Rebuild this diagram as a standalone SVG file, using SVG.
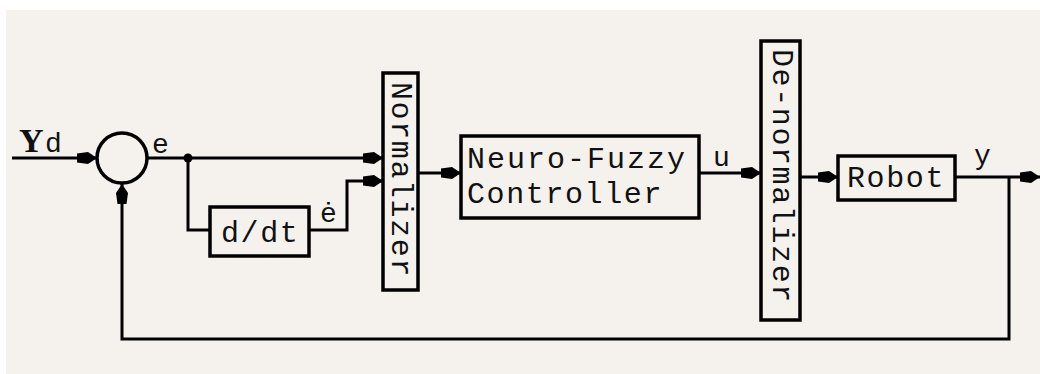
<svg xmlns="http://www.w3.org/2000/svg" width="1040" height="374" viewBox="0 0 1040 374">
<style>
.box{fill:#f5f2ee;stroke:#000;stroke-width:3.5}
.ln{fill:none;stroke:#000;stroke-width:3}
.t{font-family:"Liberation Mono","Courier New",monospace;font-size:30px;fill:#111;letter-spacing:1.6px}
.lbl{font-family:"Liberation Mono","Courier New",monospace;font-size:28px;fill:#111}
</style>
<defs>
<marker id="arr" markerUnits="userSpaceOnUse" markerWidth="22" markerHeight="14" refX="20" refY="0" viewBox="0 -7 22 14" orient="auto">
<path d="M0,-4.5 L11,-6 L20,0 L11,6 L0,4.5 z" fill="#000"/>
</marker>
</defs>
<rect x="0" y="0" width="1040" height="374" fill="#fff"/>
<rect x="6" y="10" width="1034" height="364" fill="#f5f2ee"/>
<g id="connectors">
<path class="ln" d="M12,158 H97" marker-end="url(#arr)"/>
<path class="ln" d="M147,158 H383" marker-end="url(#arr)"/>
<path class="ln" d="M188,158 V230 H210"/>
<circle cx="188" cy="158" r="4.5" fill="#000"/>
<path class="ln" d="M309,230 H347 V181 H383" marker-end="url(#arr)"/>
<path class="ln" d="M418,173 H461" marker-end="url(#arr)"/>
<path class="ln" d="M699,173 H761" marker-end="url(#arr)"/>
<path class="ln" d="M800,177 H838" marker-end="url(#arr)"/>
<path class="ln" d="M955,177 H1040" marker-end="url(#arr)"/>
<path class="ln" d="M1009,177 V339 H122 V184" marker-end="url(#arr)"/>
</g>
<g id="input-label">
<text x="19" y="152" font-family="Liberation Serif,serif" font-size="34" font-weight="bold" fill="#111">Y</text>
<text x="45" y="152" class="lbl">d</text>
</g>
<g id="sum">
<circle cx="122" cy="158" r="25" fill="#f5f2ee" stroke="#000" stroke-width="3.5"/>
</g>
<g id="e-label"><text x="152" y="153" class="lbl">e</text></g>
<g id="ddt">
<rect class="box" x="210" y="207" width="99" height="49"/>
<text class="t" x="221" y="242">d/dt</text>
</g>
<g id="edot-label"><text x="320" y="222" class="lbl">ė</text></g>
<g id="normalizer">
<rect class="box" x="383" y="73" width="35" height="217"/>
<text class="t" transform="translate(392,82) rotate(90)" x="0" y="0">Normalizer</text>
</g>
<g id="controller">
<rect class="box" x="461" y="136" width="238" height="82"/>
<text class="t" x="467" y="168" style="letter-spacing:2px">Neuro-Fuzzy</text>
<text class="t" x="467" y="203">Controller</text>
</g>
<g id="u-label"><text x="713" y="166" class="lbl">u</text></g>
<g id="denormalizer">
<rect class="box" x="761" y="41" width="39" height="279"/>
<text class="t" transform="translate(773,49) rotate(90)" x="0" y="0">De-normalizer</text>
</g>
<g id="robot">
<rect class="box" x="838" y="156" width="117" height="44"/>
<text class="t" x="847" y="187">Robot</text>
</g>
<g id="y-label"><text x="974" y="164" class="lbl">y</text></g>
</svg>
